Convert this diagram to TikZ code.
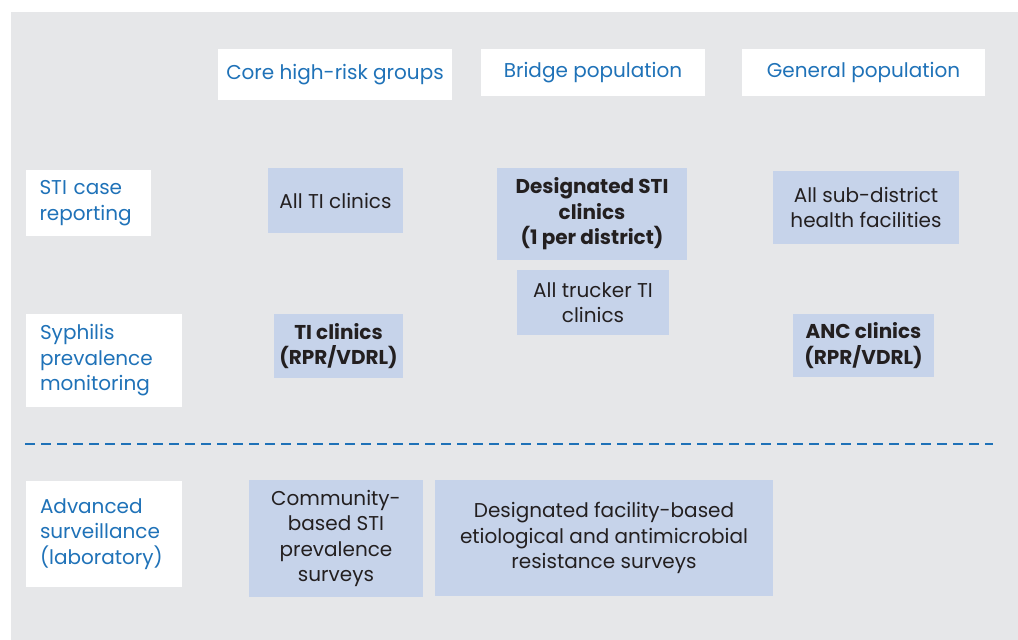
\documentclass[tikz,border=0pt]{standalone}
\usepackage{fontspec}
\setmainfont{Poppins}
\usetikzlibrary{positioning}
\definecolor{bggrey}{HTML}{E6E7E9}
\definecolor{cellblue}{HTML}{C6D3EA}
\definecolor{txtblue}{HTML}{1F72B8}
\definecolor{txtdark}{HTML}{231F20}
\tikzset{
  head/.style={fill=white,text=txtblue,inner sep=0pt,align=center,
    font=\fontsize{20}{25.5}\selectfont},
  rowlab/.style={fill=white,text=txtblue,inner sep=0pt,align=left,
    font=\fontsize{20}{25.5}\selectfont},
  cell/.style={fill=cellblue,text=txtdark,inner sep=0pt,align=center,
    font=\fontsize{20}{25.5}\selectfont},
  keycell/.style={cell,font=\fontsize{20}{25.5}\selectfont\bfseries},
}

\begin{document}
\begin{tikzpicture}[x=1pt,y=-1pt]
  \useasboundingbox (0,0) rectangle (1018,640);
  \fill[bggrey] (11,12) rectangle (1018,640);
  % column heads
  \node[head,minimum width=234pt,minimum height=51pt] at (335,74.5) (core) {Core high-risk groups};
  \node[head,minimum width=224pt,minimum height=47pt] at (593,72.5) (bridge) {Bridge population};
  \node[head,minimum width=243pt,minimum height=47pt] at (863.5,72.5) (general) {General population};
  % row labels
  \node[rowlab,minimum width=125pt,minimum height=66pt,text width=98pt] at (88.5,203) (sti) {STI case\\reporting};
  \node[rowlab,minimum width=156pt,minimum height=93pt,text width=128pt] at (104,360.5) (syph) {Syphilis\\prevalence\\monitoring};
  \node[rowlab,minimum width=156pt,minimum height=106pt,text width=128pt] at (104,534) (adv) {Advanced\\surveillance\\(laboratory)};
  % cells
  \node[cell,minimum width=135pt,minimum height=65pt] at (335.5,200.5) (allti) {All TI clinics};
  \node[keycell,minimum width=190pt,minimum height=92pt] at (592,214) (desig) {Designated STI\\clinics\\(1 per district)};
  \node[cell,minimum width=186pt,minimum height=73pt] at (866,207.5) (subdist) {All sub-district\\health facilities};
  \node[cell,minimum width=152pt,minimum height=65pt] at (593,302.5) (trucker) {All trucker TI\\clinics};
  \node[keycell,minimum width=129pt,minimum height=64pt] at (338.5,346) (ticlin) {TI clinics\\(RPR/VDRL)};
  \node[keycell,minimum width=141pt,minimum height=63pt] at (863.5,345.5) (anc) {ANC clinics\\(RPR/VDRL)};
  % divider
  \draw[txtblue,line width=2.8pt,dash pattern=on 10pt off 6pt] (25,444) -- (993,444);
  % laboratory row
  \node[cell,minimum width=174pt,minimum height=117pt] at (336,538.5) (commsurv) {Community-\\based STI\\prevalence\\surveys};
  \node[cell,minimum width=338pt,minimum height=116pt] at (604,538) (facsurv) {Designated facility-based\\etiological and antimicrobial\\resistance surveys};
\end{tikzpicture}
\end{document}
